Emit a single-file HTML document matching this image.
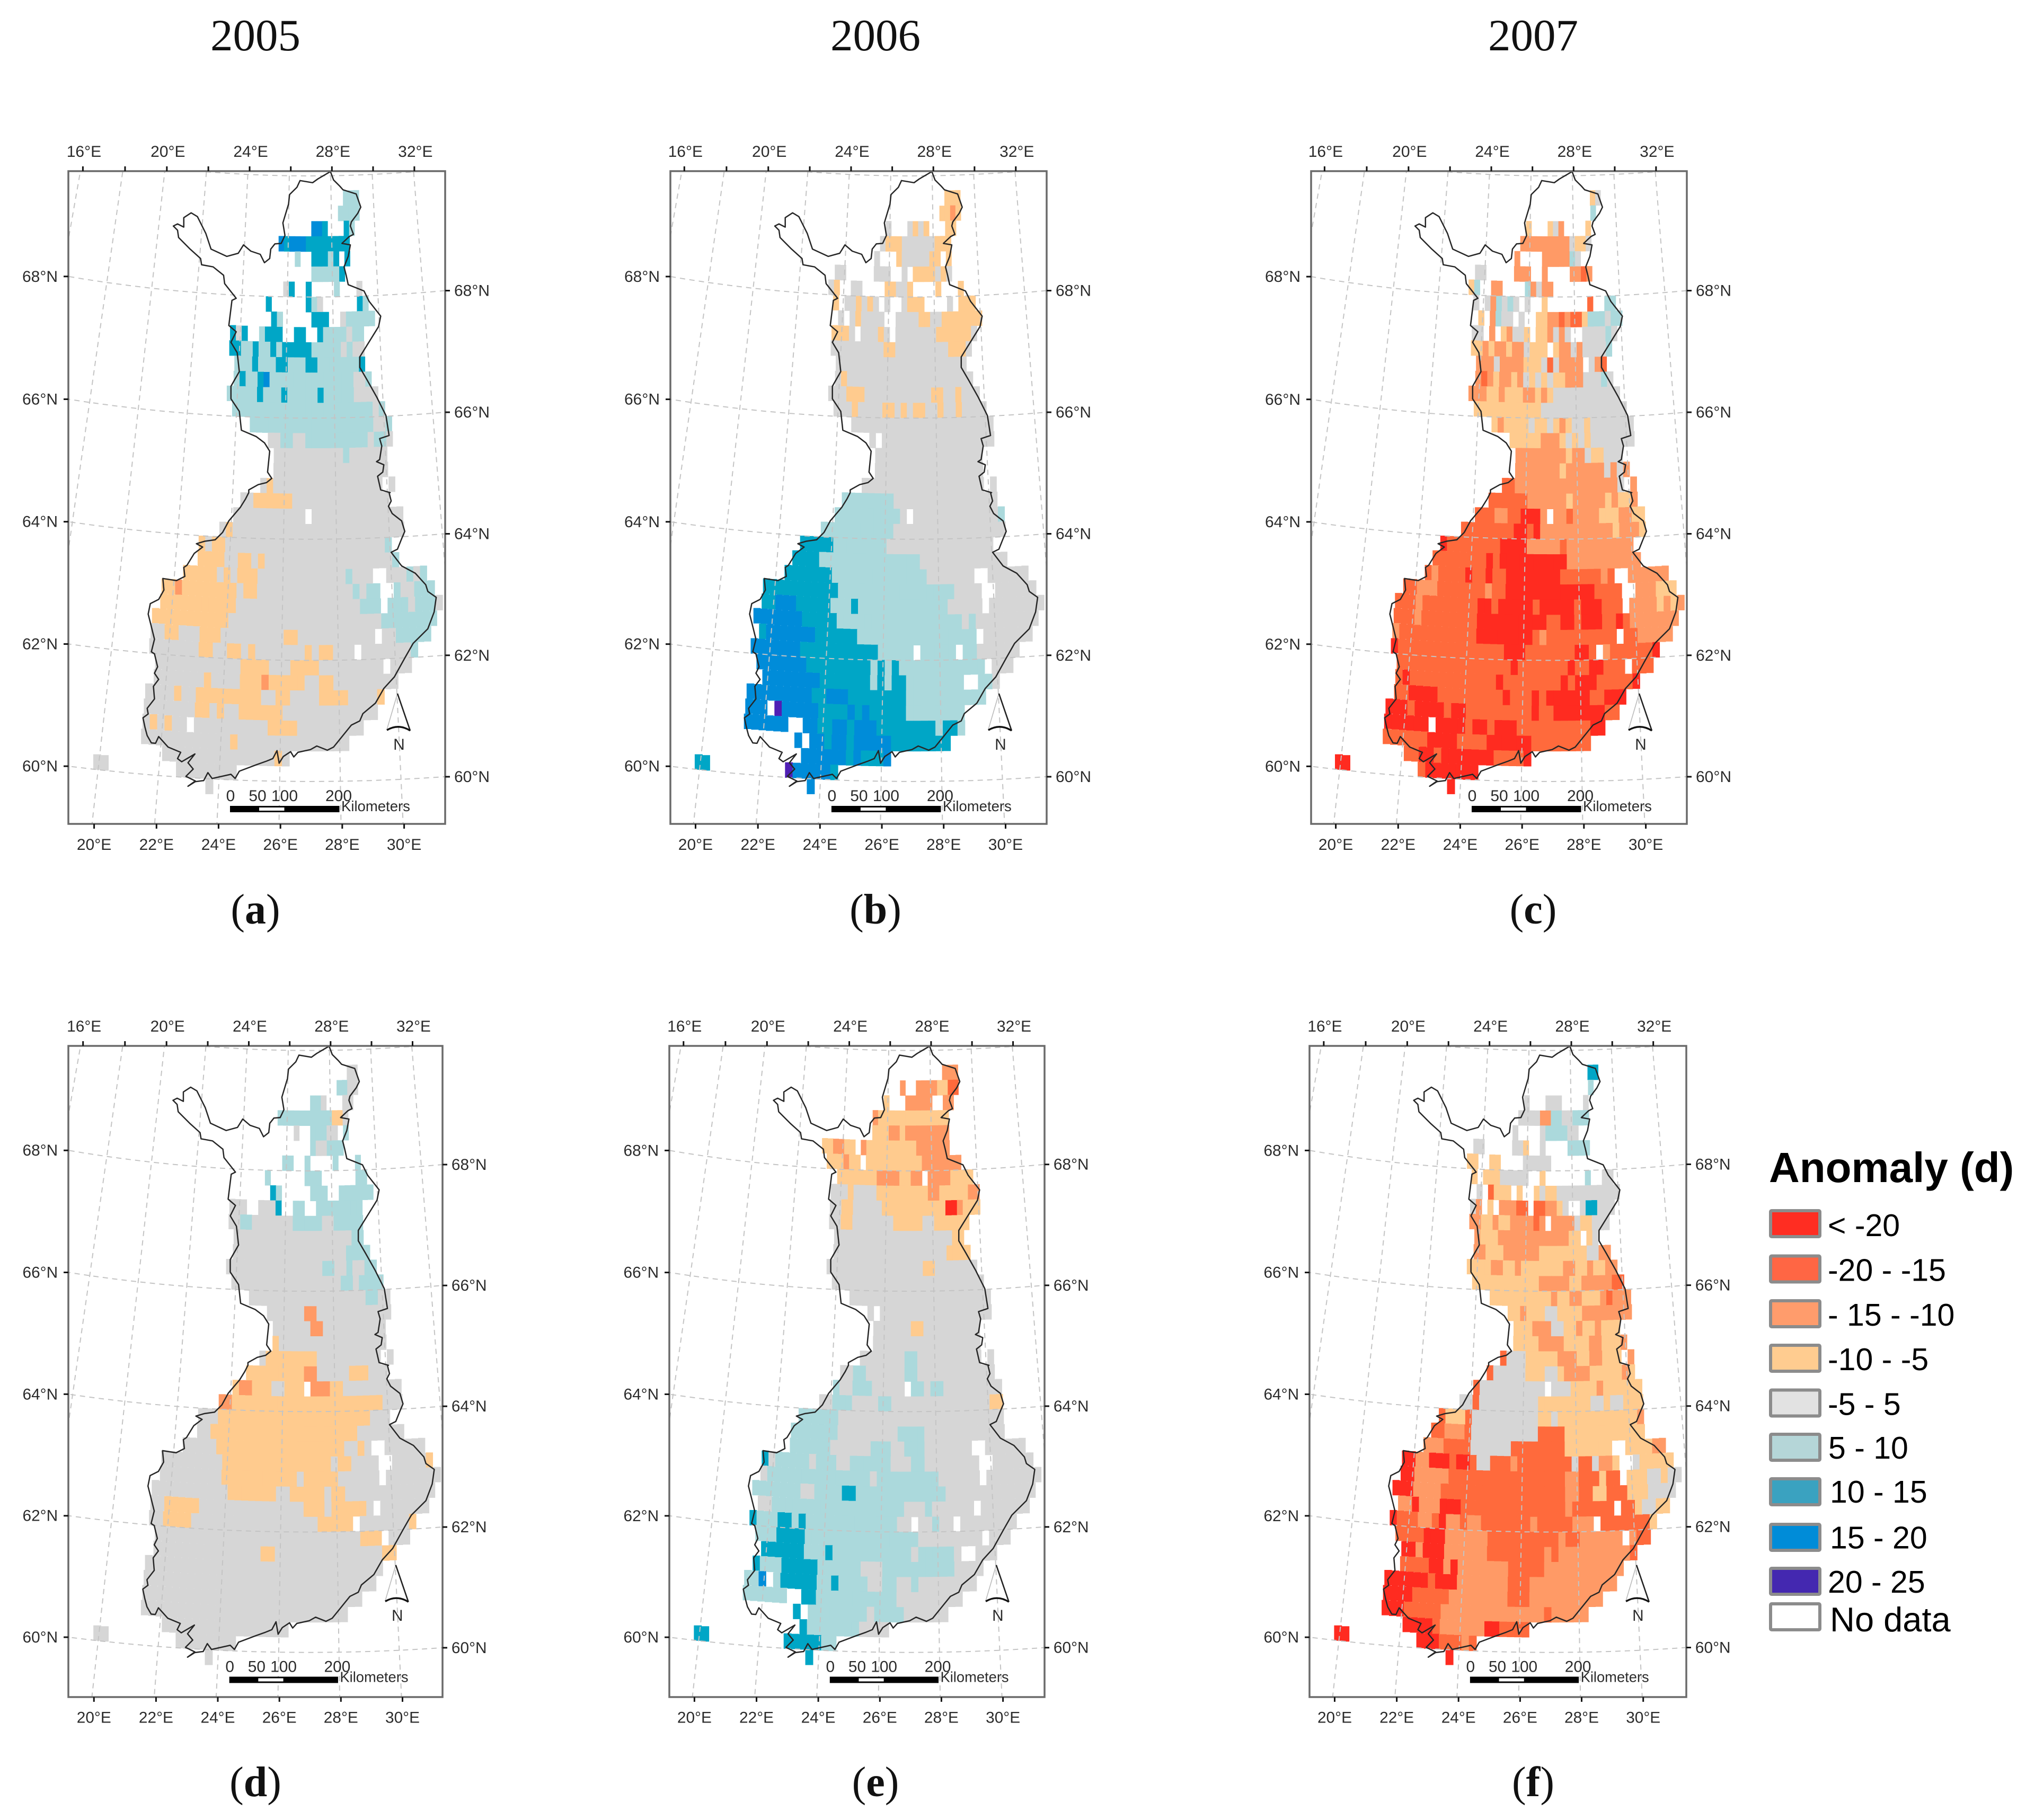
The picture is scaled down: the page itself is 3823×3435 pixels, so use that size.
<!DOCTYPE html>
<html lang="en">
<head>
<meta charset="utf-8">
<title>Anomaly maps of Finland 2005-2007</title>
<style>
html,body{margin:0;padding:0;background:#fff}
svg{display:block}
.tick{font-family:"Liberation Sans",sans-serif;font-size:30px;fill:#2b2b2b}
.title{font-family:"Liberation Serif",serif;font-size:85px;fill:#111;text-anchor:middle}
.sub{font-family:"Liberation Serif",serif;font-size:80px;fill:#111;text-anchor:middle}
.leg{font-family:"Liberation Sans",sans-serif;font-size:59px;fill:#000}
</style>
</head>
<body>
<svg id="chart" xmlns="http://www.w3.org/2000/svg" width="3823" height="3435" viewBox="0 0 3823 3435">
<rect x="0" y="0" width="3823" height="3435" fill="#fff"/>
<text class="title" x="482" y="95">2005</text>
<text class="title" x="1652" y="95">2006</text>
<text class="title" x="2893" y="95">2007</text>
<text class="sub" x="482" y="1743">(<tspan font-weight="bold">a</tspan>)</text>
<text class="sub" x="1652" y="1743">(<tspan font-weight="bold">b</tspan>)</text>
<text class="sub" x="2893" y="1743">(<tspan font-weight="bold">c</tspan>)</text>
<text class="sub" x="482" y="3390">(<tspan font-weight="bold">d</tspan>)</text>
<text class="sub" x="1652" y="3390">(<tspan font-weight="bold">e</tspan>)</text>
<text class="sub" x="2893" y="3390">(<tspan font-weight="bold">f</tspan>)</text>
<g id="panels"></g>
<g id="legend"></g>
</svg>
<script>
// Class codes: R < -20, r -20..-15, o -15..-10, y -10..-5, g -5..5, t 5..10, c 10..15, b 15..20, p 20..25, '.' no data.
// Each row (index = quarter-degree band south of 70N) is "firstColumn:runs", run = code + repeat count.
const anomalyA = ["",
"34:t3","33:t4","28:b2c.3ct","22:bcb3c8","25:t.2c3tc.c","28:t5c","23:gc.2c.4t.3g","20:c.6ctg.6ct","21:ct.5c3.2gt5",
"14:cgc.2tc3.2c2.2ct4gt2","14:c2t2ct2ctc5t5gtg2","15:t3ct3c2t3c2t7c","15:tct2cbt14g2t","14:t5ct3ct5ct5g4","15:t23gt","18:t20g2t","21:g2t2g2t10gt2g","22:g11tg6","22:g18",
"20:gyg17.g","17:g2y6g15","16:g11.g14","14:gyg26","11:ygy2g24t","11:y4g2y2gyg19t","9:y5gygy3g13tg3.2g3tgt","6:y2oy8gy2g14tgt2.2tg2t3","6:y11g18t3.t3gt3g","5:y11g22t8",
"5:g2y2g3y3g9y2g11.g2t5","5:g7y2g2y2gyg7ygy2g3.g7t","6:g12y4g3y4g9.g3","6:g7yg4y3oy5g2y2g9","5:g4yg2y9g2y2g4y4g4y","5:g7y2gyg2y6g13","5:gygyg2.g10y4g9","5:g12yg15","8:g15yg","-1:g2.9g8","14:g"];
const anomalyB = ["",
"34:y3","33:y2oy","23:g.3gygy.3y2","22:gy3g6y3","21:g.3yg5y2.y","14:g2.5g3.2g.y4gyg","13:gy.2g2.4y2g2y.4y.3y","14:y.g2ygyg.g.2gy3.4g.y3","15:g.gyg4.2g4y2g2y7",
"14:y3g.g3yg.g7y6g","14:g9y2g9y3g","15:g22","15:gyg21","14:g3y3g11y2g2yg3","15:g3yg4y2gygy2g2yg2yg4","18:g23","21:g.g18","22:g17","22:g17",
"20:g19.g","17:t8g16","16:t10g.g13t","14:t11g17","11:c5t8g16","10:c4t15g13","9:c7t14g7.2g6","6:c11t17g4.2g6","6:c2b3c5t3ct13g5.g8","5:b7c5t18gtg9",
"6:cb7c6t17.g7","5:b7c11t5.t5.t2g6","6:b7c9tctct12.g3","7:b8c7tctc2t8.2t2g","5:b9c2b3c8t11","5:b3.pb5c4bcbc5t8","5:b6.2b2c2b2cb3c8tc2t","12:b.b2cb2cb5c8","13:b6cbc3b","-1:c2.10pb5c","14:b"];
const anomalyC = ["",
"35:yg","35:t","23:y.3ygo.4y","22:o9gy2g","21:o.4o5tg","14:g2.5o3.2o.4o2ro","13:yt.2o2.4togo2","14:g.gotgtg.g.2y.7r.2t2","15:y.otg2.g.2y2o2ror2yt3gt2",
"14:g2.o.yog2y.y2ogog.2g4tg","14:y2oyo2yo2gy3.yo2gog4t","15:o3go4y3grgo4.gor","15:oroyo2yogygygy2o3g3tg","14:o3y2oy3o2yoyg11","15:y11g14","18:yoy4gy2gyoyg2yg7","21:y5o3ygygyg7","22:o8yo2gy2g3","22:o7yo6gogo",
"20:r2o16g.o","18:r6o6yo5yoy2o","16:r3o2r2R3o.o2ro4y3o2y2","14:r8R2rRo11yo3y","11:Rr8R4o5ro10","10:r8RrR10o11","9:ror4Rr2Rr2R8r6or.2o6","6:r2o3r7or2R13r4.2o3y3","5:r3or8R2rR5rR5rR3r3.o4yoyo","5:r3or8R10r2R2rR3r2Rro7",
"5:or11R8ror10.r2o5","5:Rr15R3r7R2r.or6R","6:r16Rr7Rr2R2r3.r3","6:rRr12Rr8RrR3r5R","6:r2R4r9Rr3RrR6r2R3","5:R3rR4rR2r9Rr2R7r2","5:R6.R4rR2rR3r10R2","5:r6R4r4R6r8","8:r2R2rR7r4R","-1:R2.9rR7","14:R"];
const anomalyD = ["",
"35:g2","33:t2g2","28:t2g.3g2","22:t10y2g","25:g.2t3g2.t","28:tg2t3","23:t2.2t.4t.3t","20:t.6t3.6t2","21:ct.5t3.2t6",
"14:g3.2g3c.2t2.2t8","14:g2t2g7t5g2t5","15:g20t2","15:g19t4","14:g16t2g2tg2t2","15:g18t2gt4","18:g19t2g2","21:g6o2g12","22:g6o2g10","22:yg17",
"20:gy8g10.g","18:y9o2g5y3g3","16:yo2y3g2y3.o3y2g9","14:o2y23g3","11:g3y23g3","11:g2y22g7","9:g5y19g2yg.2g6","6:g9y16gy2g4.2g5y","6:g9y11gy5g6.g8","5:g11y7g2y5gy2g13",
"5:g2y5g15y3gy5g.g7","5:g2y4g18y5.g7y","6:g29y3.g3","6:g15y2g15y2","5:g33","5:g32","5:g30","5:g28","8:g17","-1:g2.9g8","14:g"];
const anomalyE = ["",
"34:o3","26:o.2o4y2r2","23:y.3o5.2o2","21:oy13","21:y3o2yo8","12:y2o2y2.oy9o6","13:y3oy2.y10o7","15:y7o4y2o2.o4y4","14:g3yg4y9o2y5o2",
"14:g2y2g5y11R2oy3","14:g2y2g7y5g2y6","15:g20y2","15:g19y4","14:g16y2g7","15:g25","18:g23","21:g.g18","22:g6y2g9","22:g17",
"20:g7t2g10.g","17:g2t2g6t2g12","16:tg2t3g5.t2gt2g9","14:g2t3g4t2g15y2","11:t6g25","10:t7g9t4g12","10:t6g6t3g2t3g7.2g6","6:cgt5gt3g2t6g3t2g8.2g6","6:gt15gt9g6.g8","5:t7g2t4c2t13g13",
"6:g2t19g3tg6.g7","5:ct3c2tct13g2.g2tg2.g8","6:t3c4t16g9.g3","7:c6t3ct11gt5g.2g3","6:ct3c5t6g3t10g4","5:t2b.tc5t2ct4g2t2g2tg8","5:t6.2c2t11g9","12:c.t8gt4g6","13:ct7g4","-1:c2.10c5t2","14:c"];
const anomalyF = ["",
"35:c2","35:t","23:g.3g3.4g","22:g4o2t2g2t3","21:g.4gt4g2","14:g2.5g2y.2g.4t4","13:y2.2y2.4g5","14:y.y3g5.2y.7t.2g2","15:g.ry3.y.2ygy2g11",
"14:go.y.o3r2.r2o2yg.2gc2g3","14:o2y2oy2o4ro.o4gy2g3","15:oy3o12y2.yg","15:o2y3o6y8g2o2","14:y4o2y2oy7o2y2oy2o2","15:y11o5y2o5r2","18:y10oy2o2y3oro3","21:y2oy3g2y4o8","22:y3o3g2y2oy2oy3","22:y4o4y4o2y3o",
"20:rg3y5o3y2o2y3.o","18:rg5y3g2yo4y5oy","16:rg10.g3y4oy6","14:g2rg9y8g2yg2y3","11:ry3rg10y2gy12o","10:r2o3rg10r4y12","9:o3r4g6r8y7.2y4o2","6:R2o2R3rR2rg2r3or8gr2go2y.2gy5","6:R2o5r17o2r3yr2.y3g2yg2","5:R3o4r18o2r2y2r3y3g4",
"6:o2Ro3R3r15or6.r2yg2y2","5:Rr3o2rRo2ro2r7or5o3.r7y","6:r4R3o6r10or2o6.or2","7:R2oR3o6r8oro10r","7:r4R2oRo7r5o11","5:R6rR3o7r3o12","5:R4r5o8r3o10","5:R3r5o14ro5","8:R4ro6R2r4","-1:R2.9R3r3or","14:R"];

const classCodes = ["R","r","o","y","g","t","c","b","p"];
const mapClassFills = ["#ff2b20","#ff6a3c","#ff9a66","#ffcb8e","#d6d6d6","#abd9dc","#00a6c6","#008cd9","#4f1fb5"];
const legendLabels = ["< -20","-20 - -15","- 15 - -10","-10 - -5","-5 - 5","5 - 10","10 - 15","15 - 20","20 - 25","No data"];
const legendFills = ["#ff2d22","#ff6644","#ff9c6c","#ffcc90","#e2e2e2","#b5d6d8","#3aa2c0","#008cd8","#4428b0","#ffffff"];
const topLonTicks = [16,18,20,22,24,26,28,30,32];
const topLonLabels = [16,20,24,28,32];
const bottomLonLabels = [20,22,24,26,28,30];
const latLabels = [60,62,64,66,68];
const graticuleLons = [14,16,18,20,22,24,26,28,30,32,34];
const graticuleLats = [58,60,62,64,66,68,70];
const scaleLabels = [0,50,100,200];

const outlinePts = [[945,35],[960,75],[990,105],[1005,122],[1068,142],[1090,205],[1075,235],[1045,275],[1040,295],[1055,335],[1035,345],[1000,378],[1040,385],[1030,440],[1010,490],[1020,530],[1030,575],[1105,605],[1130,655],[1185,725],[1175,775],[1085,920],[1085,970],[1120,1030],[1165,1110],[1210,1200],[1225,1295],[1180,1310],[1190,1345],[1180,1410],[1165,1420],[1200,1435],[1195,1470],[1170,1490],[1185,1555],[1230,1568],
[1225,1568],[1235,1608],[1222,1633],[1240,1668],[1285,1703],[1300,1753],[1285,1788],[1265,1838],[1235,1853],[1285,1918],[1350,1953],[1400,2008],[1410,2040],[1450,2068],[1440,2138],[1410,2218],[1340,2288],[1300,2358],[1250,2448],[1200,2503],[1160,2573],[1100,2623],[1085,2658],[1045,2678],[960,2783],[930,2798],[880,2778],[850,2795],[790,2808],[770,2830],[755,2805],[720,2828],[700,2860],[690,2800],[670,2838],[640,2850],[590,2868],[510,2898],[490,2933],[470,2913],[380,2933],[360,2905],[340,2943],[300,2948],[265,2970],[300,2945],[255,2923],[290,2888],[265,2858],[298,2816],[235,2853],[215,2838],[230,2808],[170,2783],[125,2733],[110,2765],[90,2763],[70,2728],[60,2690],[50,2643],[75,2625],[70,2598],[105,2553],[100,2493],[125,2460],[105,2430],[120,2400],[105,2338],[90,2328],[105,2268],[90,2208],[75,2148],[85,2098],[125,2078],[150,2033],[145,1978],[210,1988],[250,1968],[245,1925],[260,1915],[295,1858],[335,1828],[305,1812],[345,1800],[395,1793],[430,1758],[460,1703],[515,1638],[540,1598],[555,1568],
[555,1555],[600,1530],[640,1520],[665,1500],[645,1470],[655,1370],[630,1330],[590,1300],[520,1270],[510,1180],[470,1120],[470,1060],[510,990],[500,900],[470,850],[495,800],[460,770],[475,650],[495,640],[440,570],[435,530],[385,490],[330,480],[325,450],[275,405],[220,350],[215,315],[195,295],[215,285],[245,300],[245,255],[280,232],[310,250],[350,330],[375,405],[450,440],[505,425],[530,385],[565,415],[610,430],[630,470],[655,450],[660,405],[680,380],[710,378],[728,340],[718,280],[745,190],[750,145],[785,110],[800,78],[860,88],[885,70],[945,35]];

const panelDefs = [
 {id:"a",rows:anomalyA,dx:0,dy:0,left:129,right:840,top:323,bottom:1555,k:1},
 {id:"b",rows:anomalyB,dx:1134.9,dy:0,left:1265,right:1975,top:323,bottom:1555,k:1},
 {id:"c",rows:anomalyC,dx:2343,dy:0,left:2474,right:3183,top:323,bottom:1555,k:1},
 {id:"d",rows:anomalyD,dx:0.5,dy:1650.7,left:129,right:839.3,top:1974,bottom:3210.4,k:0.994},
 {id:"e",rows:anomalyE,dx:1133.6,dy:1650.7,left:1263,right:1975.3,top:1974,bottom:3210.4,k:0.994},
 {id:"f",rows:anomalyF,dx:2341.7,dy:1650.7,left:2471,right:3186.3,top:1974,bottom:3210.4,k:0.994}
];

const NS = "http://www.w3.org/2000/svg";
const CX = 585, APEX = -2137, R60 = 3612, R_PER_DEG = 114.3, THETA = 0.01585;
function mk(tag, attrs, parent){
  const el = document.createElementNS(NS, tag);
  for (const k in attrs) el.setAttribute(k, attrs[k]);
  parent.appendChild(el);
  return el;
}
function radius(lat){ return R60 - (lat - 60) * R_PER_DEG; }
function project(p, lon, lat){
  const r = radius(lat), th = (lon - 27) * THETA;
  return [CX + p.dx + r * Math.sin(th), APEX + p.dy + r * Math.cos(th)];
}
function colToLon(i){ return 20 + 0.25 * (i + 0.27); }
function rowToLat(k){ return 70 - k * 0.25; }
function parseRow(s){
  const out = [];
  if (!s) return out;
  const parts = s.split(":");
  let col = +parts[0];
  parts[1].replace(/([A-Za-z.])(\d*)/g, function(m, code, n){
    const count = n ? +n : 1;
    for (let q = 0; q < count; q++){
      if (code !== ".") out.push([col, code]);
      col++;
    }
    return m;
  });
  return out;
}
function lonAtEdgeY(p, lon, y){
  return CX + p.dx + (y - APEX - p.dy) * Math.tan((lon - 27) * THETA) + 2.5 + (27 - lon) * 0.2;
}
function latAtEdgeX(p, lat, x){
  const r = radius(lat), d = x - CX - p.dx;
  return APEX + p.dy + Math.sqrt(r * r - d * d);
}

const panelsRoot = document.getElementById("panels");
panelDefs.forEach(function(p){
  const g = mk("g", {}, panelsRoot);
  if (p.k !== 1) g.setAttribute("transform", "translate(" + p.left + " " + p.top + ") scale(" + p.k + ") translate(" + (-p.left) + " " + (-p.top) + ")");
  
  
  const clip = mk("clipPath", {id:"clip-" + p.id}, g);
  mk("rect", {x:p.left, y:p.top, width:p.right - p.left, height:p.bottom - p.top}, clip);

  const cells = mk("g", {}, g);
  
  
  p.rows.forEach(function(rowStr, k){
    parseRow(rowStr).forEach(function(cell){
      const i = cell[0], fill = mapClassFills[classCodes.indexOf(cell[1])];
      const centre = project(p, colToLon(i + 0.5), rowToLat(k + 0.5));
      const w = radius(rowToLat(k + 0.5)) * 0.25 * THETA;
      const h = 0.25 * R_PER_DEG;
      const rect = mk("rect", {x:(centre[0] - w / 2 - 0.3).toFixed(1), y:(centre[1] - h / 2 - 0.3).toFixed(1), width:(w + 0.6).toFixed(1), height:(h + 0.6).toFixed(1), fill:fill}, cells);
      
      
    });
  });

  const grat = mk("g", {"clip-path":"url(#clip-" + p.id + ")", fill:"none", stroke:"#c4c4c4", "stroke-width":2, "stroke-dasharray":"10 8"}, g);
  
  
  graticuleLons.forEach(function(lon){
    const pts = [];
    for (let lat = 57; lat <= 72; lat += 1) pts.push(project(p, lon, lat).map(function(v){return v.toFixed(1);}).join(","));
    const line = mk("polyline", {points:pts.join(" ")}, grat);
    
    
  });
  graticuleLats.forEach(function(lat){
    const pts = [];
    for (let lon = 10; lon <= 40; lon += 1) pts.push(project(p, lon, lat).map(function(v){return v.toFixed(1);}).join(","));
    const line = mk("polyline", {points:pts.join(" ")}, grat);
    
    
  });

  const tx = 250 + p.dx, ty = 310 + p.dy;
  const outline = mk("polygon", {
    points: outlinePts.map(function(q){return (tx + q[0] / 2.53).toFixed(1) + "," + (ty + q[1] / 2.53).toFixed(1);}).join(" "),
    fill:"none", stroke:"#262626", "stroke-width":2.5, "stroke-linejoin":"round"}, g);
  
  

  const frame = mk("rect", {x:p.left, y:p.top, width:p.right - p.left, height:p.bottom - p.top, fill:"none", stroke:"#6a6a6a", "stroke-width":3.5}, g);
  
  

  const axes = mk("g", {stroke:"#111", "stroke-width":3}, g);
  
  
  topLonTicks.forEach(function(lon){
    const x = lonAtEdgeY(p, lon, p.top);
    if (x > p.left && x < p.right){
      const t = mk("line", {x1:x, x2:x, y1:p.top - 9, y2:p.top}, axes);
      
      
    }
    if (topLonLabels.indexOf(lon) >= 0){
      const lb = mk("text", {x:x + 2, y:p.top - 27, "class":"tick", "text-anchor":"middle"}, g);
      lb.textContent = lon + "°E";
      
      
    }
  });
  bottomLonLabels.forEach(function(lon){
    const x = lonAtEdgeY(p, lon, p.bottom);
    const t = mk("line", {x1:x, x2:x, y1:p.bottom, y2:p.bottom + 9}, axes);
    
    
    const lb = mk("text", {x:x, y:p.bottom + 49, "class":"tick", "text-anchor":"middle"}, g);
    lb.textContent = lon + "°E";
    
    
  });
  latLabels.forEach(function(lat){
    const yl = latAtEdgeX(p, lat, p.left), yr = latAtEdgeX(p, lat, p.right);
    const t1 = mk("line", {x1:p.left - 9, x2:p.left, y1:yl, y2:yl}, axes);
    
    
    const t2 = mk("line", {x1:p.right, x2:p.right + 9, y1:yr, y2:yr}, axes);
    
    
    const l1 = mk("text", {x:p.left - 20, y:yl + 10, "class":"tick", "text-anchor":"end"}, g);
    l1.textContent = lat + "°N";
    
    
    const l2 = mk("text", {x:p.right + 17, y:yr + 10, "class":"tick"}, g);
    l2.textContent = lat + "°N";
    
    
  });

  const ox = p.dx, oy = p.dy;
  const north = mk("g", {}, g);
  
  
  mk("line", {x1:750 + ox, y1:1309 + oy, x2:730 + ox, y2:1377 + oy, stroke:"#bbb", "stroke-width":1.6}, north);
  mk("line", {x1:750 + ox, y1:1309 + oy, x2:774 + ox, y2:1379 + oy, stroke:"#222", "stroke-width":2.6}, north);
  mk("path", {d:"M" + (730 + ox) + " " + (1378 + oy) + " Q" + (752 + ox) + " " + (1365 + oy) + " " + (774 + ox) + " " + (1379 + oy), fill:"none", stroke:"#111", "stroke-width":3.4}, north);
  const nt = mk("text", {x:753 + ox, y:1415 + oy, "class":"tick", "text-anchor":"middle"}, north);
  nt.textContent = "N";
  
  

  const scale = mk("g", {}, g);
  
  
  mk("rect", {x:434 + ox, y:1521 + oy, width:206.5, height:12, fill:"#000"}, scale);
  mk("rect", {x:489 + ox, y:1524 + oy, width:47.5, height:6, fill:"#fff"}, scale);
  const scaleX = {0:435, 50:486, 100:537, 200:639};
  scaleLabels.forEach(function(v){
    const s = mk("text", {x:scaleX[v] + ox, y:1512 + oy, "class":"tick", "text-anchor":"middle"}, scale);
    s.textContent = String(v);
    
    
  });
  const km = mk("text", {x:644 + ox, y:1531 + oy, "class":"tick"}, scale);
  km.textContent = "Kilometers";
  km.style.fontSize = "27.5px";
  
  
});

const legendRoot = document.getElementById("legend");
const legendTitle = mk("text", {x:3338, y:2231, "font-family":'"Liberation Sans", sans-serif', "font-size":80, "font-weight":"bold", fill:"#000"}, legendRoot);
legendTitle.textContent = "Anomaly (d)";


const legendBoxTop = [2282,2367.5,2452,2536,2620.5,2704,2788,2874,2957,3024];
const legendBase = [2333,2417.5,2502,2586,2670.5,2753,2836,2922.5,3006,3079];
const legendTextX = [3449,3449,3449,3449,3449,3450,3453,3453,3449,3453];
legendLabels.forEach(function(label, i){
  const sw = mk("rect", {x:3341, y:legendBoxTop[i] + 3, width:93, height:49, rx:2, fill:legendFills[i], stroke:"#8c8c8c", "stroke-width":6}, legendRoot);
  
  
  const t = mk("text", {x:legendTextX[i], y:legendBase[i], "class":"leg"}, legendRoot);
  t.textContent = label;
  if (i === legendLabels.length - 1) t.style.fontSize = "65px";
  
  
});
</script>
</body>
</html>
